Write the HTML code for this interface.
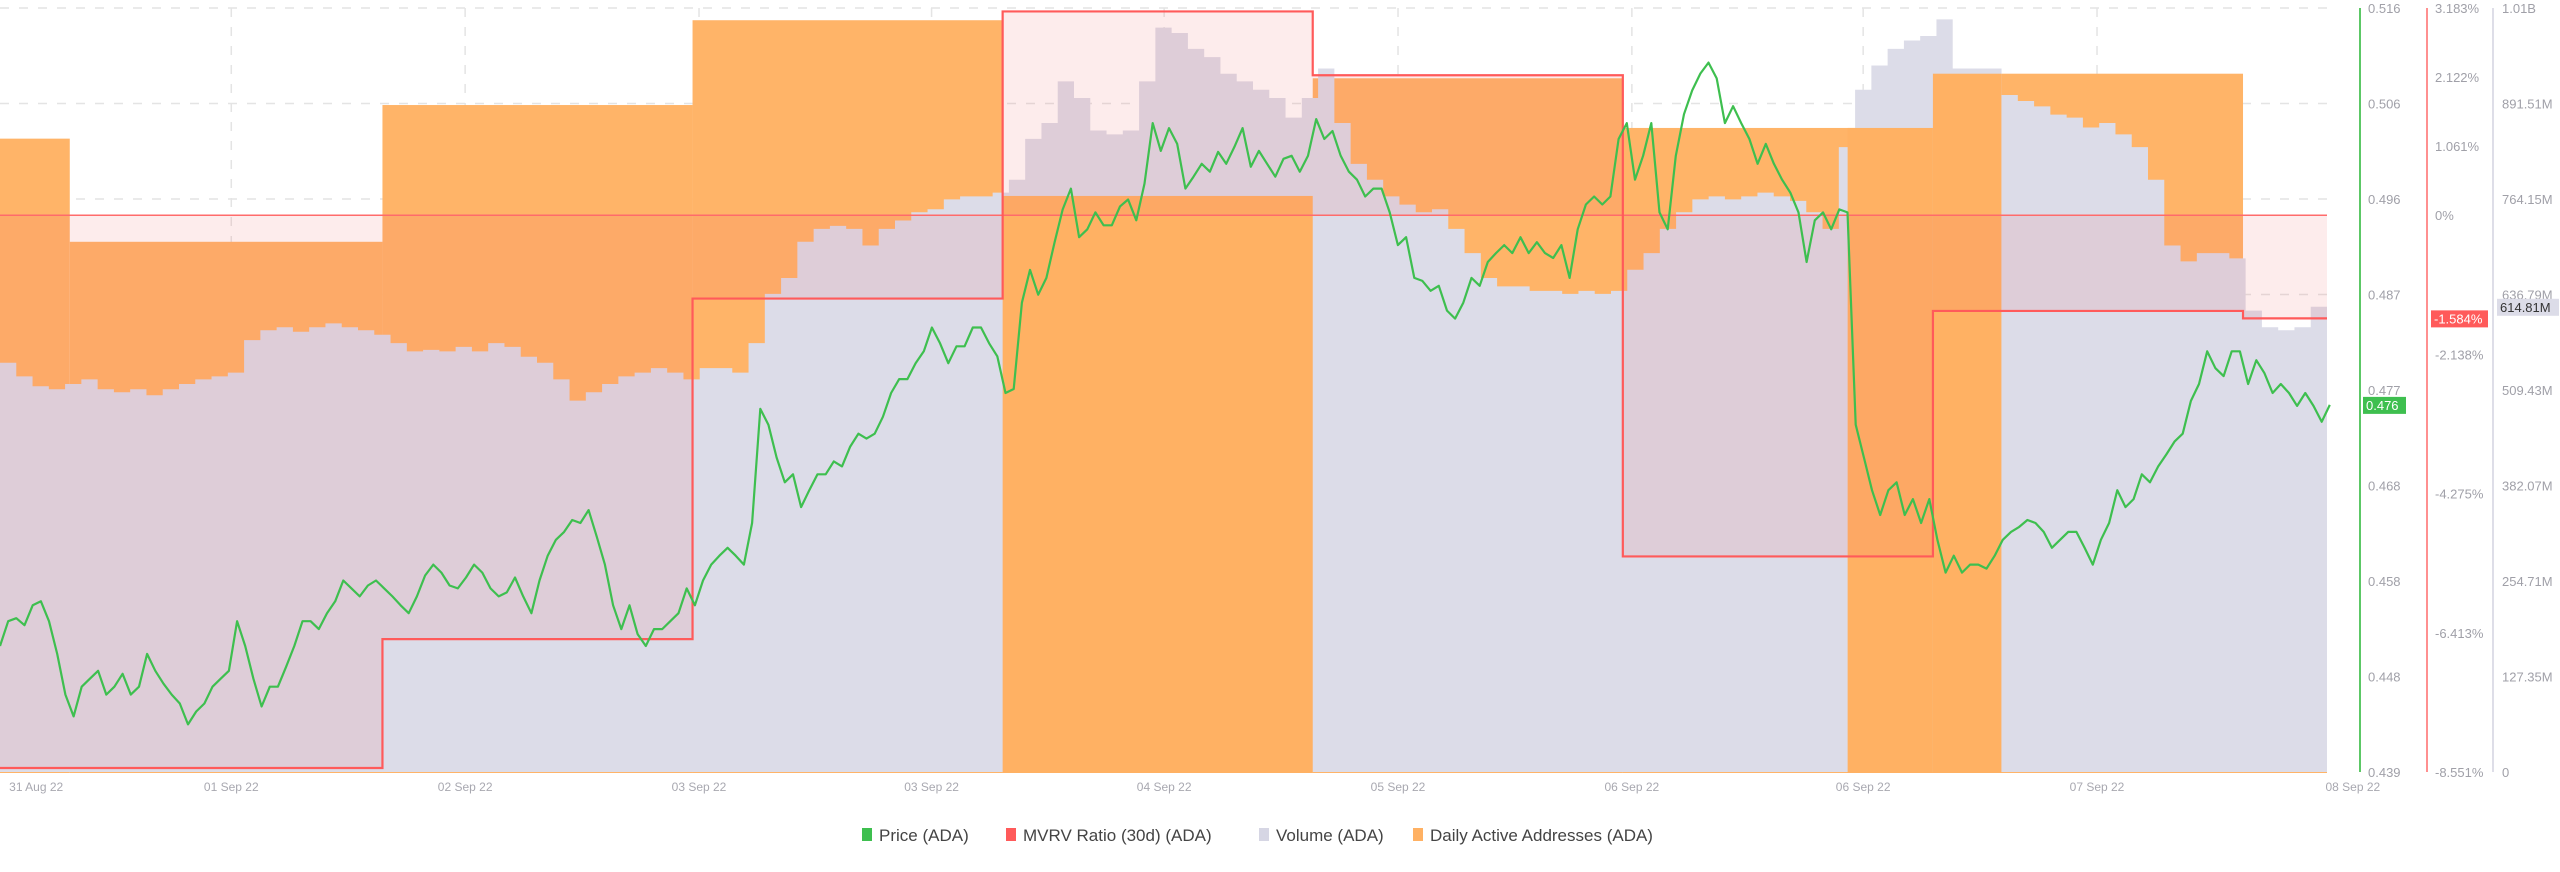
<!DOCTYPE html>
<html><head><meta charset="utf-8">
<style>
html,body{margin:0;padding:0;background:#fff;}
body{width:2560px;height:867px;overflow:hidden;position:relative;font-family:"Liberation Sans",sans-serif;}
svg text{font-family:"Liberation Sans",sans-serif;}
</style></head>
<body>
<svg id="chart" width="2560" height="867" xmlns="http://www.w3.org/2000/svg"></svg>
<script>
// ---- data ----
const priceStartHour = -29.6;
const priceStepHour = 0.6327;
const priceValues = [0.4517,0.4542,0.4545,0.4538,0.4558,0.4562,0.4542,0.4509,0.4468,0.4446,0.4476,0.4484,0.4492,0.4468,0.4476,0.4489,0.4468,0.4476,0.4509,0.4492,0.4479,0.4468,0.4459,0.4438,0.4451,0.4459,0.4476,0.4484,0.4492,0.4542,0.4517,0.4484,0.4456,0.4476,0.4476,0.4496,0.4517,0.4542,0.4542,0.4534,0.4550,0.4562,0.4583,0.4575,0.4567,0.4578,0.4583,0.4575,0.4567,0.4558,0.4550,0.4567,0.4588,0.4599,0.4591,0.4578,0.4575,0.4586,0.4599,0.4591,0.4575,0.4567,0.4571,0.4586,0.4567,0.4550,0.4583,0.4608,0.4624,0.4632,0.4644,0.4641,0.4654,0.4627,0.4599,0.4558,0.4534,0.4558,0.4529,0.4517,0.4534,0.4534,0.4542,0.4550,0.4575,0.4558,0.4583,0.4599,0.4608,0.4616,0.4608,0.4599,0.4641,0.4756,0.4740,0.4707,0.4682,0.4690,0.4657,0.4674,0.4690,0.4690,0.4703,0.4698,0.4718,0.4731,0.4726,0.4731,0.4748,0.4772,0.4786,0.4786,0.4802,0.4814,0.4838,0.4822,0.4802,0.4819,0.4819,0.4838,0.4838,0.4822,0.4809,0.4772,0.4776,0.4863,0.4896,0.4871,0.4888,0.4924,0.4957,0.4978,0.4929,0.4937,0.4954,0.4941,0.4941,0.4960,0.4967,0.4946,0.4983,0.5044,0.5016,0.5039,0.5023,0.4978,0.4990,0.5003,0.4995,0.5015,0.5003,0.5020,0.5039,0.5000,0.5016,0.5003,0.4990,0.5008,0.5011,0.4995,0.5011,0.5048,0.5028,0.5036,0.5011,0.4995,0.4987,0.4970,0.4978,0.4978,0.4954,0.4921,0.4929,0.4888,0.4885,0.4875,0.4880,0.4855,0.4847,0.4863,0.4888,0.4880,0.4904,0.4913,0.4921,0.4913,0.4929,0.4913,0.4924,0.4913,0.4908,0.4921,0.4888,0.4937,0.4962,0.4970,0.4962,0.4970,0.5028,0.5044,0.4987,0.5011,0.5044,0.4954,0.4937,0.5011,0.5053,0.5077,0.5094,0.5105,0.5089,0.5044,0.5061,0.5044,0.5028,0.5003,0.5023,0.5003,0.4987,0.4974,0.4954,0.4904,0.4946,0.4954,0.4937,0.4957,0.4954,0.4740,0.4707,0.4674,0.4649,0.4674,0.4682,0.4649,0.4665,0.4641,0.4665,0.4624,0.4591,0.4608,0.4591,0.4599,0.4599,0.4595,0.4608,0.4624,0.4632,0.4637,0.4644,0.4641,0.4632,0.4616,0.4624,0.4632,0.4632,0.4616,0.4599,0.4624,0.4641,0.4674,0.4657,0.4665,0.4690,0.4682,0.4698,0.4710,0.4723,0.4731,0.4764,0.4781,0.4814,0.4797,0.4789,0.4814,0.4814,0.4781,0.4805,0.4792,0.4772,0.4781,0.4772,0.4759,0.4772,0.4759,0.4743,0.4760];
const volumeValues = [541,523,510,506,513,519,506,502,506,498,506,513,519,523,528,571,584,588,582,588,593,588,584,578,567,556,558,556,562,556,567,562,549,541,519,491,502,513,523,528,534,528,519,534,534,528,567,632,653,701,718,722,718,696,718,729,740,744,757,761,761,766,783,837,858,913,891,848,843,848,913,984,977,956,945,923,913,902,891,865,891,930,858,804,783,761,750,740,744,718,686,653,642,642,636,636,632,636,632,636,664,686,718,740,757,761,757,761,766,761,755,740,718,826,902,934,956,967,973,995,930,930,930,895,887,880,869,865,852,858,843,826,783,696,675,686,686,679,610,588,584,588,615];
const mvrvStartHours = [-29.6,0,24,48,72,96,120,144];
const mvrvValues = [-8.49,-6.51,-1.28,3.13,2.15,-5.24,-1.47,-1.584];
const daaStartHours = [-29.6,-24.2,0,24,48,72,96,120,144];
const daaValues = [829,694,873,984,754,908,843,914,3];
const daaFrontStart = [48,113.4];
const daaFrontEnd = [72,125.3];
const xTickHours = [-26.8,-11.7,6.4,24.5,42.5,60.5,78.6,96.7,114.6,132.7,152.5];
const xTickLabels = ["31 Aug 22","01 Sep 22","02 Sep 22","03 Sep 22","03 Sep 22","04 Sep 22","05 Sep 22","06 Sep 22","06 Sep 22","07 Sep 22","08 Sep 22"];
const priceTickLabels = ["0.516","0.506","0.496","0.487","0.477","0.468","0.458","0.448","0.439"];
const mvrvTickValues = [3.183,2.122,1.061,0,-2.138,-4.275,-6.413,-8.551];
const mvrvTickLabels = ["3.183%","2.122%","1.061%","0%","-2.138%","-4.275%","-6.413%","-8.551%"];
const volTickLabels = ["1.01B","891.51M","764.15M","636.79M","509.43M","382.07M","254.71M","127.35M","0"];

// ---- scales ----
const T0=-29.6, T1=150.5, PX0=0, PX1=2327, TOP=8, BOT=772;
const xS = t => PX0 + (t-T0)/(T1-T0)*(PX1-PX0);
const pMin=0.439, pMax=0.516;
const yP = v => BOT - (v-pMin)/(pMax-pMin)*(BOT-TOP);
const mMin=-8.551, mMax=3.183;
const yM = v => BOT - (v-mMin)/(mMax-mMin)*(BOT-TOP);
const vMax=1010;
const yV = v => BOT - v/vMax*(BOT-TOP);
const dMax=1000;
const yD = v => BOT - v/dMax*(BOT-TOP);

const NS="http://www.w3.org/2000/svg";
const svg=document.getElementById('chart');
function mk(tag, attrs, parent){const e=document.createElementNS(NS,tag);for(const k in attrs)e.setAttribute(k,attrs[k]);(parent||svg).appendChild(e);return e;}

// grid
const grid=mk('g',{});


for(let k=0;k<priceTickLabels.length;k++){
  const y=TOP+k*(BOT-TOP)/(priceTickLabels.length-1);
  mk('line',{x1:0,x2:PX1,y1:y,y2:y,stroke:'#e4e4e4','stroke-width':1.5,'stroke-dasharray':'9 10'},grid);
}
for(let i=1;i<xTickHours.length-1;i++){
  const x=xS(xTickHours[i]);
  mk('line',{x1:x,x2:x,y1:TOP,y2:BOT,stroke:'#e4e4e4','stroke-width':1.5,'stroke-dasharray':'9 10'},grid);
}

// DAA behind
const daaG=mk('g',{});


function daaEnd(i){return i+1<daaStartHours.length?daaStartHours[i+1]:T1;}
for(let i=0;i<daaValues.length;i++){
  const r=mk('rect',{x:xS(daaStartHours[i]),y:yD(daaValues[i]),width:xS(daaEnd(i))-xS(daaStartHours[i]),height:BOT-yD(daaValues[i])+1,fill:'#ffb468'},daaG);
  
  
}
// volume
let d='M'+xS(T0)+','+BOT;
const vStep=(T1-T0)/volumeValues.length;
for(let i=0;i<volumeValues.length;i++){
  const x0=xS(T0+i*vStep), x1=xS(T0+(i+1)*vStep), y=yV(volumeValues[i]);
  d+=' L'+x0+','+y+' L'+x1+','+y;
}
d+=' L'+xS(T1)+','+BOT+' Z';
const vol=mk('path',{d:d,fill:'#dcdce8'});


// DAA front (drawn over volume)
const daaFrontG=mk('g',{});


for(let f=0;f<daaFrontStart.length;f++){
  for(let i=0;i<daaValues.length;i++){
    const a=Math.max(daaStartHours[i],daaFrontStart[f]), b=Math.min(daaEnd(i),daaFrontEnd[f]);
    if(b<=a) continue;
    const r=mk('rect',{x:xS(a),y:yD(daaValues[i]),width:xS(b)-xS(a),height:BOT-yD(daaValues[i])+1,fill:'#ffb163'},daaFrontG);
    
    
  }
}
// MVRV fill + line
let fd='M'+xS(T0)+','+yM(0), ld='';
for(let i=0;i<mvrvValues.length;i++){
  const a=xS(mvrvStartHours[i]), b=xS(i+1<mvrvStartHours.length?mvrvStartHours[i+1]:T1), y=yM(mvrvValues[i]);
  fd+=' L'+a+','+y+' L'+b+','+y;
  ld+=(i?' L':'M')+a+','+y+' L'+b+','+y;
}
fd+=' L'+xS(T1)+','+yM(0)+' Z';
const mf=mk('path',{d:fd,fill:'rgba(240,110,110,0.13)'});


const zl=mk('line',{x1:0,x2:PX1,y1:yM(0),y2:yM(0),stroke:'#ff6b6b','stroke-width':1.5});


const ml=mk('path',{d:ld,fill:'none',stroke:'#ff5a5a','stroke-width':2.2});


// price
let pd='';
for(let i=0;i<priceValues.length;i++){pd+=(i?' L':'M')+xS(priceStartHour+i*priceStepHour).toFixed(1)+','+yP(priceValues[i]).toFixed(1);}
const pl=mk('path',{d:pd,fill:'none',stroke:'#3ebf4f','stroke-width':2.2,'stroke-linejoin':'round'});



// axes
const ax=mk('g',{});


mk('line',{x1:2360,x2:2360,y1:TOP,y2:BOT,stroke:'#5cc866','stroke-width':2},ax);
mk('line',{x1:2427,x2:2427,y1:TOP,y2:BOT,stroke:'#ff6b6b','stroke-width':1.5},ax);
mk('line',{x1:2493,x2:2493,y1:TOP,y2:BOT,stroke:'#d4d4e0','stroke-width':1.5},ax);
for(let k=0;k<priceTickLabels.length;k++){
  const y=TOP+k*(BOT-TOP)/(priceTickLabels.length-1);
  const t=mk('text',{x:2368,y:y+5,'font-size':13,fill:'#a0a0a8'},ax);t.textContent=priceTickLabels[k];
  
  
}
for(let k=0;k<mvrvTickValues.length;k++){
  const t=mk('text',{x:2435,y:yM(mvrvTickValues[k])+5,'font-size':13,fill:'#a0a0a8'},ax);t.textContent=mvrvTickLabels[k];
  
  
}
for(let k=0;k<volTickLabels.length;k++){
  const y=TOP+k*(BOT-TOP)/(volTickLabels.length-1);
  const t=mk('text',{x:2502,y:y+5,'font-size':13,fill:'#a0a0a8'},ax);t.textContent=volTickLabels[k];
  
  
}
for(let i=0;i<xTickHours.length;i++){
  const t=mk('text',{x:xS(xTickHours[i]),y:791,'font-size':12,fill:'#a8a8b0','text-anchor':'middle'},ax);t.textContent=xTickLabels[i];
  
  
}
// badges
function badge(x,y,w,bg,fg,txt,name){
  const g=mk('g',{});
  
  
  mk('rect',{x:x,y:y-8,width:w,height:17,fill:bg},g);
  const t=mk('text',{x:x+3,y:y+5,'font-size':13,fill:fg},g);t.textContent=txt;
}
badge(2363,yP(priceValues[priceValues.length-1]),43,'#3ebf4f','#fff',priceValues[priceValues.length-1].toFixed(3),'price-current-badge');
badge(2431,yM(mvrvValues[mvrvValues.length-1]),57,'#ff5a5a','#fff',mvrvValues[mvrvValues.length-1].toFixed(3)+'%','mvrv-current-badge');
badge(2497,yV(volumeValues[volumeValues.length-1]),62,'#dcdce8','#333','614.81M','volume-current-badge');

// legend
const legend=mk('g',{});


const legItems=[[862,'#3ebf4f','Price (ADA)','legend-price'],[1006,'#ff5a5a','MVRV Ratio (30d) (ADA)','legend-mvrv'],[1259,'#d6d6e4','Volume (ADA)','legend-volume'],[1413,'#ffb163','Daily Active Addresses (ADA)','legend-daa']];
for(const it of legItems){
  const g=mk('g',{},legend);
  
  
  mk('rect',{x:it[0],y:828,width:10,height:13,fill:it[1]},g);
  const t=mk('text',{x:it[0]+17,y:841,'font-size':17,fill:'#444'},g);t.textContent=it[2];
}
</script>
</body></html>
